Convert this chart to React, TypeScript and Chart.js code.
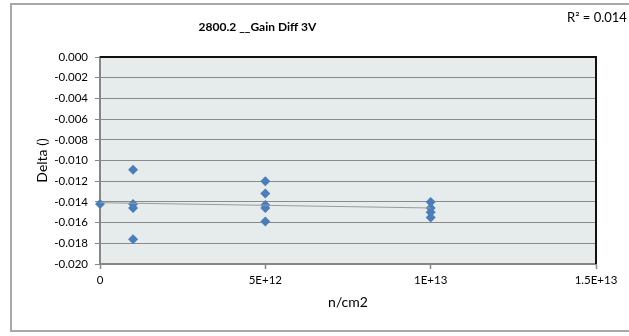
import React, { useEffect, useRef } from "react";
import { Chart, registerables } from "chart.js";

Chart.register(...registerables);

// Fluence (n/cm2) for each measured point
const fluence: number[] = [
  0,
  1e12, 1e12, 1e12, 1e12,
  5e12, 5e12, 5e12, 5e12, 5e12,
  1e13, 1e13, 1e13, 1e13,
];
// Gain difference (Delta) at each point
const delta: number[] = [
  -0.0142,
  -0.0109, -0.0142, -0.0146, -0.0176,
  -0.012, -0.0132, -0.0143, -0.0146, -0.0159,
  -0.014, -0.0146, -0.015, -0.0155,
];
const xTickLabels: string[] = ["0", "5E+12", "1E+13", "1.5E+13"];
const titleText = "2800.2 __Gain Diff 3V";
const rSquaredText = "R\u00B2 = 0.014";
const xAxisTitle = "n/cm2";
const yAxisTitle = "Delta ()";

function linearFit(xs: number[], ys: number[]) {
  const n = xs.length;
  const mx = xs.reduce((a, b) => a + b, 0) / n;
  const my = ys.reduce((a, b) => a + b, 0) / n;
  let sxy = 0;
  let sxx = 0;
  for (let i = 0; i < n; i++) {
    sxy += (xs[i] - mx) * (ys[i] - my);
    sxx += (xs[i] - mx) * (xs[i] - mx);
  }
  const slope = sxy / sxx;
  return { slope, intercept: my - slope * mx };
}

const FONT = "Lato, 'Liberation Sans', sans-serif";

export default function App() {
  const ref = useRef<HTMLCanvasElement | null>(null);

  useEffect(() => {
    if (!ref.current) return;
    const fit = linearFit(fluence, delta);
    const xMin = Math.min(...fluence);
    const xMax = Math.max(...fluence);
    const trend = [
      { x: xMin, y: fit.intercept + fit.slope * xMin },
      { x: xMax, y: fit.intercept + fit.slope * xMax },
    ];

    const decor = {
      id: "decor",
      beforeDraw(chart: any) {
        const { ctx, chartArea: a } = chart;
        ctx.save();
        ctx.fillStyle = "#ffffff";
        ctx.fillRect(0, 0, chart.width, chart.height);
        ctx.strokeStyle = "#a8a8a8";
        ctx.lineWidth = 2;
        ctx.strokeRect(11, 4, 700, 327);
        ctx.fillStyle = "#e6ebeb";
        ctx.fillRect(a.left, a.top, a.right - a.left, a.bottom - a.top);
        ctx.restore();
      },
      beforeDatasetsDraw(chart: any) {
        const { ctx, chartArea: a } = chart;
        ctx.save();
        ctx.strokeStyle = "#111111";
        ctx.lineWidth = 2;
        ctx.beginPath();
        ctx.moveTo(a.left, a.top);
        ctx.lineTo(a.right, a.top);
        ctx.lineTo(a.right, a.bottom);
        ctx.stroke();
        ctx.restore();
      },
      afterDraw(chart: any) {
        const { ctx } = chart;
        ctx.save();
        ctx.fillStyle = "#000000";
        ctx.textBaseline = "middle";
        ctx.textAlign = "center";
        ctx.font = `bold 12px ${FONT}`;
        ctx.fillText(titleText, 257.5, 27);
        ctx.textAlign = "left";
        ctx.font = `13px ${FONT}`;
        ctx.fillText(rSquaredText, 567, 18);
        ctx.restore();
      },
    };

    const chart = new Chart(ref.current, {
      type: "scatter",
      data: {
        datasets: [
          {
            type: "line",
            label: "Trend",
            data: trend,
            borderColor: "#9a9a9a",
            borderWidth: 1,
            pointRadius: 0,
            fill: false,
            order: 0,
          } as any,
          {
            label: "Delta",
            data: fluence.map((x, i) => ({ x, y: delta[i] })),
            pointStyle: "rectRot",
            pointRadius: 5,
            backgroundColor: "#4a7ebb",
            borderColor: "#4a7ebb",
            borderWidth: 0,
            clip: false,
            order: 1,
          },
        ],
      },
      options: {
        responsive: false,
        animation: false,
        events: [],
        layout: { padding: { top: 57, right: 33, bottom: 0, left: 0 } },
        plugins: {
          legend: { display: false },
          title: { display: false },
          tooltip: { enabled: false },
        },
        scales: {
          x: {
            type: "linear",
            min: 0,
            max: 1.5e13,
            afterFit: (s: any) => {
              s.height = 72;
            },
            ticks: {
              stepSize: 5e12,
              padding: 4,
              color: "#000000",
              font: { family: FONT, size: 11.5 },
              callback: (_v: any, i: number) => xTickLabels[i],
            },
            grid: {
              drawOnChartArea: false,
              drawTicks: true,
              tickLength: 5,
              tickColor: "#868686",
              tickWidth: 1.5,
            },
            border: { color: "#868686", width: 2 },
            title: {
              display: true,
              text: xAxisTitle,
              color: "#000000",
              font: { family: FONT, size: 14 },
              padding: { top: 0, bottom: 25 },
            },
          },
          y: {
            type: "linear",
            min: -0.02,
            max: 0,
            afterFit: (s: any) => {
              s.width = 100;
            },
            ticks: {
              stepSize: 0.002,
              padding: 7,
              color: "#000000",
              font: { family: FONT, size: 11.5 },
              callback: (v: any) => (Math.abs(v) < 1e-12 ? "0.000" : Number(v).toFixed(3)),
            },
            grid: {
              color: "#8a8a8a",
              lineWidth: 1,
              tickLength: 5,
              tickColor: "#868686",
            },
            border: { color: "#868686", width: 2 },
            title: {
              display: true,
              text: yAxisTitle,
              color: "#000000",
              font: { family: FONT, size: 14 },
              padding: { top: 34, bottom: 0 },
            },
          },
        },
      },
      plugins: [decor],
    } as any);
    return () => chart.destroy();
  }, []);

  return (
    <div style={{ position: "fixed", left: 0, top: 0, width: 629, height: 336 }}>
      <canvas ref={ref} width={629} height={336} style={{ display: "block" }} />
    </div>
  );
}
